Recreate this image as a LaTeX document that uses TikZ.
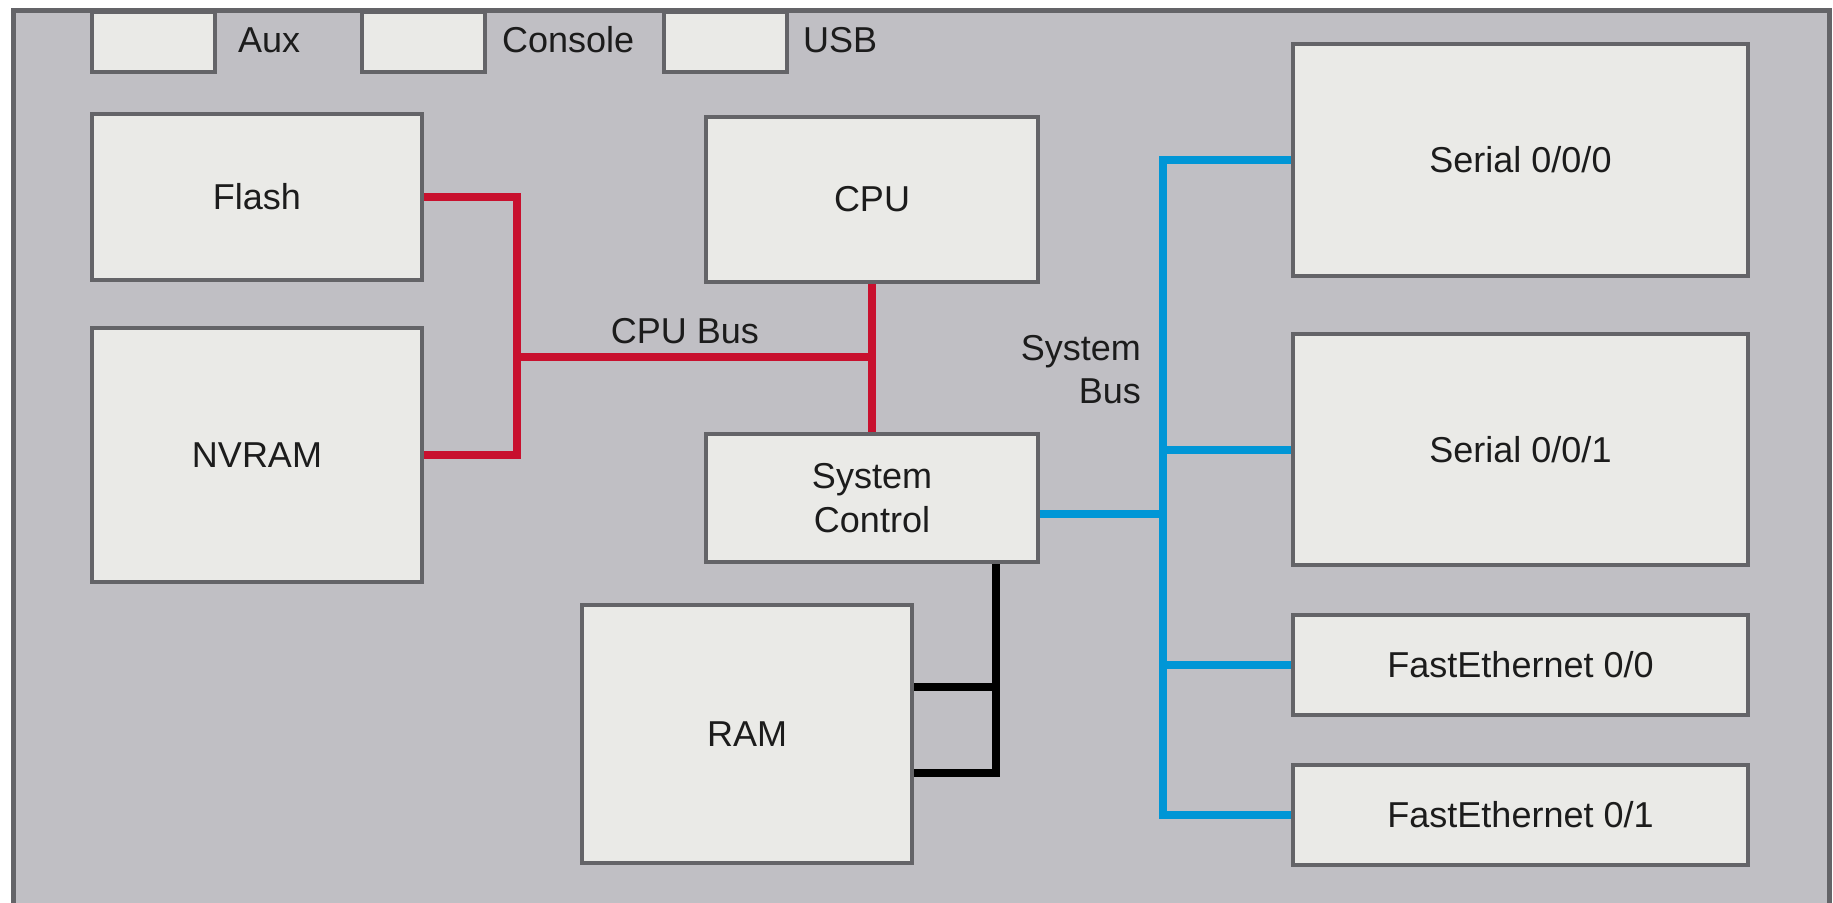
\documentclass[tikz,border=0pt]{standalone}
\usepackage{fontspec}
\setmainfont{Liberation Sans}
\definecolor{framefill}{HTML}{C0BFC4}
\definecolor{boxfill}{HTML}{EAEAE7}
\definecolor{bordergray}{HTML}{646468}
\definecolor{busred}{HTML}{C8102E}
\definecolor{busblue}{HTML}{0096D6}
\definecolor{textblack}{HTML}{1C1C1C}
\pgfdeclarelayer{bg}
\pgfdeclarelayer{wires}
\pgfsetlayers{bg,wires,main}
\begin{document}
\begin{tikzpicture}[x=1pt,y=-1pt,
  font=\fontsize{36}{43.2}\selectfont,
  box/.style={draw=bordergray, fill=boxfill, line width=4pt, inner sep=0pt,
              text=textblack, align=center},
  lbl/.style={text=textblack, inner sep=0pt},
  wire/.style={line width=8pt, line join=miter},
  redwire/.style={wire, draw=busred},
  bluewire/.style={wire, draw=busblue},
  blackwire/.style={wire, draw=black}]
\useasboundingbox (0,0) rectangle (1833,902);
\begin{pgfonlayer}{bg}
  \draw[draw=bordergray, fill=framefill, line width=5pt] (13.5,10) rectangle (1829,940);
\end{pgfonlayer}

% small port boxes
\node[box, minimum width=123.5pt, minimum height=60pt] (aux) at (153.25,42) {};
\node[box, minimum width=123pt, minimum height=60pt] (console) at (423.5,42) {};
\node[box, minimum width=123pt, minimum height=60pt] (usb) at (725.5,42) {};
\node[lbl, anchor=base west] (auxl) at (238,52) {Aux};
\node[lbl, anchor=base west] (consolel) at (502,52) {Console};
\node[lbl, anchor=base west] (usbl) at (803,52) {USB};

% left column
\node[box, minimum width=330pt, minimum height=166pt] (flash) at (257,197) {Flash};
\node[box, minimum width=330pt, minimum height=254pt] (nvram) at (257,455) {NVRAM};

% centre column
\node[box, minimum width=332pt, minimum height=165pt] (cpu) at (872,199.5) {CPU};
\node[box, minimum width=332pt, minimum height=128pt] (sysctl) at (872,498) {System\\Control};
\node[box, minimum width=330pt, minimum height=258pt] (ram) at (747,734) {RAM};

% right column
\node[box, minimum width=455pt, minimum height=232pt] (s0) at (1520.5,160) {Serial 0/0/0};
\node[box, minimum width=455pt, minimum height=231pt] (s1) at (1520.5,449.5) {Serial 0/0/1};
\node[box, minimum width=455pt, minimum height=100pt] (fe0) at (1520.5,665) {FastEthernet 0/0};
\node[box, minimum width=455pt, minimum height=100pt] (fe1) at (1520.5,815) {FastEthernet 0/1};

% bus labels
\node[lbl, anchor=base] (cpubusl) at (685,343) {CPU Bus};
\node[lbl, anchor=east, align=right] (sysbusl) at (1141,370) {System\\Bus};

% wires
\coordinate (rbx) at (517,357);
\coordinate (sbus) at (1163,514);
\coordinate (rt) at (996,687);
\coordinate (rb) at (996,773);
\begin{pgfonlayer}{wires}
  \draw[redwire] (flash.east) -- (flash.east -| rbx) -- (nvram.east -| rbx) -- (nvram.east);
  \draw[redwire] (rbx) -- (rbx -| cpu.south);
  \draw[redwire] (cpu.south) -- (sysctl.north);
  \draw[bluewire] (s0.west) -- (s0.west -| sbus) -- (fe1.west -| sbus) -- (fe1.west);
  \draw[bluewire] (sysctl.east |- sbus) -- (sbus);
  \draw[bluewire] (s1.west -| sbus) -- (s1.west);
  \draw[bluewire] (fe0.west -| sbus) -- (fe0.west);
  \draw[blackwire] (sysctl.south -| rb) -- (rb) -- (ram.east |- rb);
  \draw[blackwire] (ram.east |- rt) -- (rt);
\end{pgfonlayer}
\end{tikzpicture}
\end{document}
